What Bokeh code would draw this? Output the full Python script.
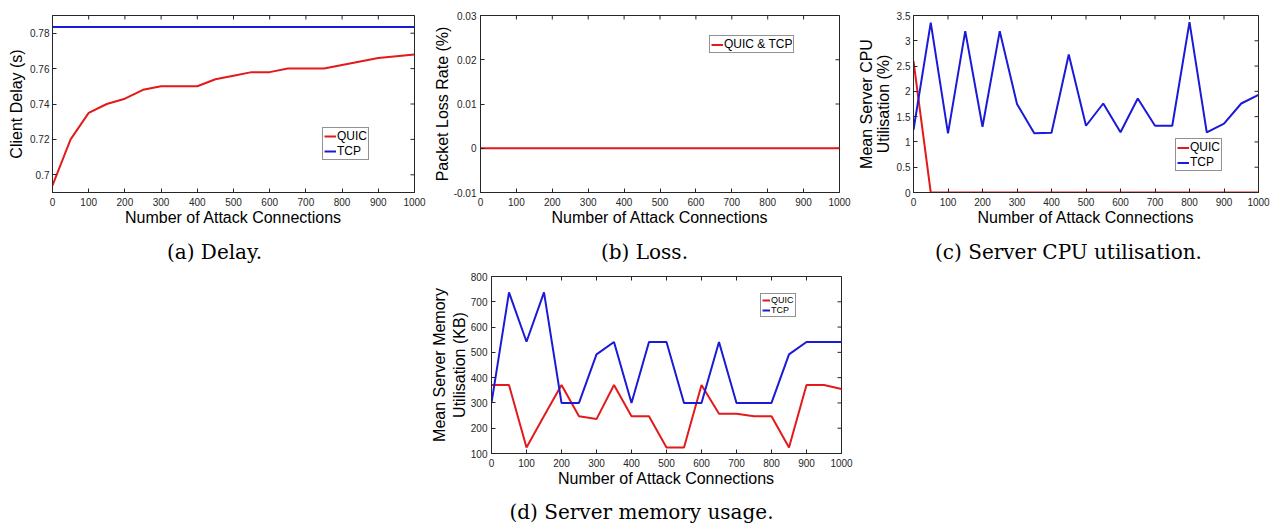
import math
from bokeh.plotting import figure
from bokeh.models import Range1d, FixedTicker, Label, Spacer
from bokeh.layouts import row, column
from bokeh.embed import file_html
from bokeh.resources import INLINE

# ---------------- data ----------------
attack_connections = [0, 50, 100, 150, 200, 250, 300, 350, 400, 450, 500,
                      550, 600, 650, 700, 750, 800, 850, 900, 950, 1000]

delay_quic = [0.694, 0.720, 0.735, 0.740, 0.743, 0.748, 0.750, 0.750, 0.750, 0.754, 0.756,
              0.758, 0.758, 0.760, 0.760, 0.760, 0.762, 0.764, 0.766, 0.767, 0.768]
delay_tcp = [0.7835, 0.7835, 0.7835, 0.7835, 0.7835, 0.7835, 0.7835, 0.7835, 0.7835, 0.7835, 0.7835,
             0.7835, 0.7835, 0.7835, 0.7835, 0.7835, 0.7835, 0.7835, 0.7835, 0.7835, 0.7835]

loss_quic_tcp = [0.0, 0.0, 0.0, 0.0, 0.0, 0.0, 0.0, 0.0, 0.0, 0.0, 0.0,
                 0.0, 0.0, 0.0, 0.0, 0.0, 0.0, 0.0, 0.0, 0.0, 0.0]

cpu_quic = [2.60, 0.0, 0.0, 0.0, 0.0, 0.0, 0.0, 0.0, 0.0, 0.0, 0.0,
            0.0, 0.0, 0.0, 0.0, 0.0, 0.0, 0.0, 0.0, 0.0, 0.0]
cpu_tcp = [1.24, 3.36, 1.17, 3.19, 1.30, 3.19, 1.75, 1.17, 1.18, 2.73, 1.32,
           1.76, 1.19, 1.86, 1.32, 1.32, 3.37, 1.19, 1.36, 1.76, 1.93]

mem_quic = [371, 371, 124, 248, 371, 247, 236, 371, 247, 247, 124,
            124, 371, 257, 257, 247, 247, 124, 371, 371, 355]
mem_tcp = [300, 737, 542, 737, 300, 300, 492, 541, 300, 541, 541,
           300, 300, 541, 300, 300, 300, 492, 541, 541, 541]

x_ticks = [0, 100, 200, 300, 400, 500, 600, 700, 800, 900, 1000]
x_tick_labels = ["0", "100", "200", "300", "400", "500", "600", "700", "800", "900", "1000"]
delay_ticks = [0.70, 0.72, 0.74, 0.76, 0.78]
delay_tick_labels = ["0.7", "0.72", "0.74", "0.76", "0.78"]
loss_ticks = [-0.01, 0.0, 0.01, 0.02, 0.03]
loss_tick_labels = ["-0.01", "0", "0.01", "0.02", "0.03"]
cpu_ticks = [0.0, 0.5, 1.0, 1.5, 2.0, 2.5, 3.0, 3.5]
cpu_tick_labels = ["0", "0.5", "1", "1.5", "2", "2.5", "3", "3.5"]
mem_ticks = [100, 200, 300, 400, 500, 600, 700, 800]
mem_tick_labels = ["100", "200", "300", "400", "500", "600", "700", "800"]

x_label = "Number of Attack Connections"
captions = ["(a) Delay.", "(b) Loss.", "(c) Server CPU utilisation.", "(d) Server memory usage."]

# ---------------- style ----------------
RED = "#e31a1c"
BLUE = "#1a1ad8"
AX = "#262626"
SANS = "Liberation Sans"
SERIF = "DejaVu Serif"
TICK = 4


def make_fig(width, height, mbl, mbr, mbt, mbb, xr, yr, yticks, ylabels, ylabel,
             y_major_standoff, y_label_standoff, y_line_height=1.2):
    p = figure(width=width, height=height, output_backend="svg", toolbar_location=None,
               x_range=Range1d(*xr), y_range=Range1d(*yr),
               min_border_left=mbl, min_border_right=mbr,
               min_border_top=mbt, min_border_bottom=mbb)
    p.background_fill_color = "white"
    p.border_fill_color = "white"
    p.outline_line_color = AX
    p.outline_line_width = 1
    p.xgrid.visible = False
    p.ygrid.visible = False

    for ax, ticks, labels in ((p.xaxis[0], x_ticks, x_tick_labels), (p.yaxis[0], yticks, ylabels)):
        ax.ticker = FixedTicker(ticks=ticks)
        ax.major_label_overrides = dict(zip(ticks, labels))
        ax.major_tick_in = TICK
        ax.major_tick_out = 0
        ax.minor_tick_in = 0
        ax.minor_tick_out = 0
        ax.axis_line_color = AX
        ax.major_tick_line_color = AX
        ax.major_label_text_font = SANS
        ax.major_label_text_font_size = "10px"
        ax.major_label_text_color = AX
        ax.axis_label_text_font = SANS
        ax.axis_label_text_font_size = "16px"
        ax.axis_label_text_font_style = "normal"
        ax.axis_label_text_color = "black"

    p.xaxis.axis_label = x_label
    p.xaxis.major_label_standoff = 5
    p.xaxis.axis_label_standoff = 0
    p.yaxis.axis_label = ylabel
    p.yaxis.major_label_standoff = y_major_standoff
    p.yaxis.axis_label_standoff = y_label_standoff
    p.yaxis.axis_label_text_line_height = y_line_height

    # box ticks on the top and right edges (half of each dash lies inside the frame)
    p.scatter(x_ticks, [yr[1]] * len(x_ticks), marker="dash", angle=math.pi / 2,
              size=2 * TICK, line_color=AX, line_width=1)
    p.scatter([xr[1]] * len(yticks), yticks, marker="dash", angle=0,
              size=2 * TICK, line_color=AX, line_width=1)
    return p


def style_legend(p, loc, font, glyph_w, glyph_h, label_h, spacing, padding, standoff):
    lg = p.legend[0]
    lg.location = loc
    lg.label_text_font = SANS
    lg.label_text_font_size = font
    lg.label_text_color = "black"
    lg.glyph_width = glyph_w
    lg.glyph_height = glyph_h
    lg.label_height = label_h
    lg.label_width = 10
    lg.spacing = spacing
    lg.padding = padding
    lg.label_standoff = standoff
    lg.margin = 0
    lg.border_line_color = AX
    lg.border_line_width = 1
    lg.background_fill_color = "white"
    lg.background_fill_alpha = 1.0


def caption_fig(text, width, height, cx, cy_from_top):
    """A bare strip (no axes) that carries one sub-figure caption."""
    c = figure(width=width, height=height, output_backend="svg", toolbar_location=None,
               x_range=Range1d(0, width), y_range=Range1d(0, height),
               x_axis_location=None, y_axis_location=None,
               min_border_left=0, min_border_right=0, min_border_top=0, min_border_bottom=0)
    c.outline_line_color = None
    c.xgrid.visible = False
    c.ygrid.visible = False
    c.background_fill_color = "white"
    c.border_fill_color = "white"
    c.add_layout(Label(x=cx, y=height - cy_from_top, text=text,
                       text_font=SERIF, text_font_size="20px", text_color="black",
                       text_align="center", text_baseline="middle"))
    return c


# (a) Delay        canvas x 0..430, frame 52..414 / y 13..192
pa = make_fig(430, 237, 52, 16, 13, 45, (0, 1000), (0.69, 0.79),
              delay_ticks, delay_tick_labels, "Client Delay (s)", 3, 2)
pa.line(attack_connections, delay_quic, line_color=RED, line_width=2, legend_label="QUIC")
pa.line(attack_connections, delay_tcp, line_color=BLUE, line_width=2, legend_label="TCP")
style_legend(pa, (270, 32), "12px", 12, 14, 14, 1, 1, 1)

# (b) Loss         canvas x 430..854, frame 477..839 / y 9..192
pb = make_fig(424, 237, 47, 15, 9, 45, (0, 1000), (-0.01, 0.03),
              loss_ticks, loss_tick_labels, "Packet Loss Rate (%)", 4, 0)
pb.line(attack_connections, loss_quic_tcp, line_color=RED, line_width=2, legend_label="QUIC & TCP")
style_legend(pb, (229, 139), "12px", 12, 11, 11, 0, 1, 1)

# (c) CPU          canvas x 854..1271, frame 910..1258 / y 15..194
pc = make_fig(417, 237, 56, 13, 15, 43, (0, 1000), (0, 3.5),
              cpu_ticks, cpu_tick_labels, "Mean Server CPU\nUtilisation (%)", 3, 2, 1.0)
pc.line(attack_connections, cpu_quic, line_color=RED, line_width=2, legend_label="QUIC")
pc.line(attack_connections, cpu_tcp, line_color=BLUE, line_width=2, legend_label="TCP")
style_legend(pc, (262, 21), "12px", 12, 13, 13, 1, 1, 1)

# (d) Memory       canvas x 428..856, frame 489..841 / y 276..453
pd_ = make_fig(428, 232, 61, 15, 11, 44, (0, 1000), (100, 800),
               mem_ticks, mem_tick_labels, "Mean Server Memory\nUtilisation (KB)", 4, 0, 1.15)
pd_.line(attack_connections, mem_quic, line_color=RED, line_width=2, legend_label="QUIC")
pd_.line(attack_connections, mem_tcp, line_color=BLUE, line_width=2, legend_label="TCP")
style_legend(pd_, (269, 136), "9px", 8, 10, 10, 0, 1, 1)

# caption strips (y 237..265 for the top row, 497..523 for the bottom one)
cap_a = caption_fig(captions[0], 430, 28, 214, 14)
cap_b = caption_fig(captions[1], 424, 28, 214, 14)
cap_c = caption_fig(captions[2], 417, 28, 214, 14)
cap_d = caption_fig(captions[3], 428, 26, 213, 14)

layout = column(
    row(pa, pb, pc),
    row(cap_a, cap_b, cap_c),
    row(Spacer(width=428, height=232), pd_),
    row(Spacer(width=428, height=26), cap_d),
)

open("out.html", "w").write(file_html(layout, INLINE))
